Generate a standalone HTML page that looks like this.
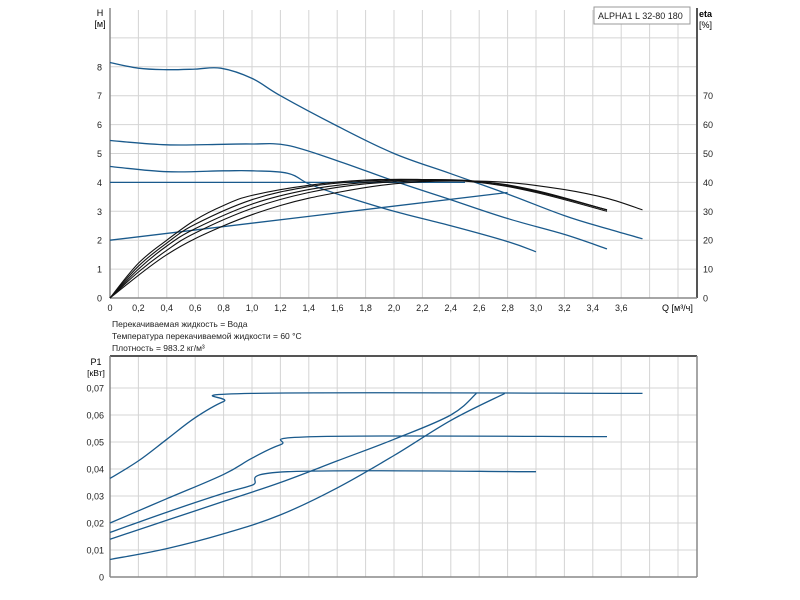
<!DOCTYPE html>
<html><head><meta charset="utf-8"><style>
body{margin:0;background:#fff;width:800px;height:600px;overflow:hidden}
svg{display:block;font-family:"Liberation Sans",sans-serif}
</style></head><body>
<svg id="c" width="800" height="600"></svg>
<script>
// ---- data ----
const qTicks=["0","0,2","0,4","0,6","0,8","1,0","1,2","1,4","1,6","1,8","2,0","2,2","2,4","2,6","2,8","3,0","3,2","3,4","3,6"];
const hTicks=[0,1,2,3,4,5,6,7,8];
const etaTicks=[0,10,20,30,40,50,60,70];
const pTicks=["0","0,01","0,02","0,03","0,04","0,05","0,06","0,07"];
const headQ1=[0,0.2,0.4,0.6,0.78,1.0,1.2,1.6,2.0,2.4,2.8,3.2,3.5,3.75];
const headH1=[8.15,7.95,7.9,7.92,7.95,7.6,7.0,5.95,5.0,4.3,3.6,2.85,2.4,2.05];
const headQ2=[0,0.4,0.8,1.0,1.25,1.6,2.0,2.4,2.8,3.2,3.5];
const headH2=[5.45,5.3,5.32,5.33,5.28,4.75,4.05,3.4,2.75,2.2,1.7];
const headQ3=[0,0.4,0.8,1.0,1.25,1.4,1.6,2.0,2.4,2.8,3.0];
const headH3=[4.55,4.37,4.4,4.4,4.32,3.95,3.6,3.0,2.5,1.95,1.6];
const constQ=[0,2.5];const constH=[4,4];
const propQ=[0,2.8];const propH=[2,3.65];
const etaQ1=[0,0.2,0.4,0.6,0.8,1.0,1.4,1.8,2.2,2.6,3.0,3.5];
const etaV1=[0,12,20,27,32,35.5,39,40.8,41,40,36.5,30];
const etaQ2=[0,0.2,0.4,0.6,1.0,1.4,1.8,2.2,2.6,3.0,3.5];
const etaV2=[0,11,19,25.5,34,38.5,40.5,41,40.3,36.8,30.5];
const etaQ3=[0,0.2,0.4,0.6,1.0,1.4,1.8,2.2,2.6,3.0,3.5];
const etaV3=[0,10,18,24,32.5,37.5,40,40.8,40.3,37,30.5];
const etaQ4=[0,0.2,0.4,0.6,1.0,1.4,1.8,2.2,2.6,3.0,3.5];
const etaV4=[0,9,16.5,22.5,31,36.5,39.5,40.5,40.3,37.2,30.5];
const etaQ5=[0,0.4,0.8,1.2,1.6,2.0,2.4,2.8,3.2,3.5,3.75];
const etaV5=[0,15,25,32,36.5,39.5,40.5,40,37.5,34.5,30.5];
const pQ1=[0,0.2,0.4,0.6,0.8,1.0,3.75];
const pV1=[0.0365,0.043,0.051,0.059,0.065,0.068,0.068];
const pQ2=[0,0.4,0.8,1.0,1.2,1.45,3.5];
const pV2=[0.020,0.029,0.038,0.044,0.049,0.052,0.052];
const pQ3=[0,0.4,0.8,1.0,1.25,3.0];
const pV3=[0.0165,0.024,0.031,0.034,0.039,0.039];
const pQ4=[0,0.4,0.8,1.2,1.6,2.0,2.4,2.58];
const pV4=[0.014,0.021,0.028,0.035,0.043,0.051,0.060,0.068];
const pQ5=[0,0.4,0.8,1.2,1.6,2.0,2.4,2.78];
const pV5=[0.0065,0.0105,0.016,0.023,0.033,0.045,0.058,0.068];
// ---- axes ----
const X=q=>110+q*142;
const YH=h=>298-h*28.9;
const YE=e=>298-e*2.89;
const YP=p=>577-p*2700;
const svg=document.getElementById('c');const NS='http://www.w3.org/2000/svg';
function mk(t,a,txt){const e=document.createElementNS(NS,t);for(const k in a)e.setAttribute(k,a[k]);if(txt!==undefined)e.textContent=txt;svg.appendChild(e);return e;}
function path(xs,ys,Y){const P=xs.map((x,i)=>[X(x),Y(ys[i])]);let d='M'+P[0][0].toFixed(1)+','+P[0][1].toFixed(1);
 for(let i=0;i<P.length-1;i++){const p0=P[i-1]||P[i],p1=P[i],p2=P[i+1],p3=P[i+2]||P[i+1];const k=0.18;
  const c1=[p1[0]+(p2[0]-p0[0])*k,p1[1]+(p2[1]-p0[1])*k],c2=[p2[0]-(p3[0]-p1[0])*k,p2[1]-(p3[1]-p1[1])*k];
  d+='C'+c1.map(v=>v.toFixed(1)).join(',')+' '+c2.map(v=>v.toFixed(1)).join(',')+' '+p2[0].toFixed(1)+','+p2[1].toFixed(1);}
 return d;}
function grid(top,bot){for(let i=1;i<=20;i++){const l=mk('line',{x1:X(i*0.2),x2:X(i*0.2),y1:top,y2:bot,stroke:'#d4d4d4','stroke-width':1});}}
// top chart
grid(10,298);
for(let h=1;h<=9;h++){const l=mk('line',{x1:110,x2:697,y1:YH(h),y2:YH(h),stroke:'#d4d4d4'});}
let a=mk('line',{x1:110,x2:110,y1:8,y2:298,stroke:'#888','stroke-width':1.5});
a=mk('line',{x1:697,x2:697,y1:8,y2:298,stroke:'#555','stroke-width':2});
a=mk('line',{x1:110,x2:697,y1:298,y2:298,stroke:'#888','stroke-width':1.5});
hTicks.forEach(h=>{const t=mk('text',{x:102,y:YH(h)+3.5,'font-size':9,'text-anchor':'end',fill:'#222'},h);});
etaTicks.forEach(e=>{const t=mk('text',{x:703,y:YE(e)+3.5,'font-size':9,fill:'#222'},e);});
qTicks.forEach((s,i)=>{const t=mk('text',{x:X(i*0.2),y:311,'font-size':9,'text-anchor':'middle',fill:'#222'},s);});
let t=mk('text',{x:100,y:16,'font-size':9,'text-anchor':'middle'},'H');
t=mk('text',{x:100,y:27,'font-size':9,'text-anchor':'middle'},'[м]');
t=mk('text',{x:699,y:17,'font-size':9,'font-weight':'bold'},'eta');
t=mk('text',{x:699,y:28,'font-size':9},'[%]');
t=mk('text',{x:662,y:311,'font-size':9},'Q [м³/ч]');
let r=mk('rect',{x:594,y:7,width:96,height:17,fill:'#fff',stroke:'#999'});
t=mk('text',{x:598,y:19,'font-size':9,fill:'#222'},'ALPHA1 L 32-80  180');
const blue='#1a5a8c';
[[headQ1,headH1],[headQ2,headH2],[headQ3,headH3],[constQ,constH],[propQ,propH]].forEach(([q,h],i)=>{const p=mk('path',{d:path(q,h,YH),fill:'none',stroke:blue,'stroke-width':1.3});});
[[etaQ1,etaV1],[etaQ2,etaV2],[etaQ3,etaV3],[etaQ4,etaV4],[etaQ5,etaV5]].forEach(([q,e],i)=>{const p=mk('path',{d:path(q,e,YE),fill:'none',stroke:'#111','stroke-width':1.1});});
// notes
['Перекачиваемая жидкость = Вода','Температура перекачиваемой жидкости = 60 °C','Плотность = 983.2 кг/м³'].forEach((s,i)=>{const n=mk('text',{x:112,y:327+i*12,'font-size':8.5,fill:'#222'},s);});
// bottom chart
grid(356,577);
for(let i=1;i<=7;i++){const l=mk('line',{x1:110,x2:697,y1:YP(i*0.01),y2:YP(i*0.01),stroke:'#d4d4d4'});}
a=mk('line',{x1:110,x2:697,y1:356,y2:356,stroke:'#555','stroke-width':2});
a=mk('line',{x1:110,x2:110,y1:356,y2:577,stroke:'#888','stroke-width':1.5});
a=mk('line',{x1:697,x2:697,y1:356,y2:577,stroke:'#888','stroke-width':1.5});
a=mk('line',{x1:110,x2:697,y1:577,y2:577,stroke:'#888','stroke-width':1.5});
pTicks.forEach((s,i)=>{const n=mk('text',{x:104,y:YP(i*0.01)+3.5,'font-size':9,'text-anchor':'end',fill:'#222'},s);});
t=mk('text',{x:96,y:365,'font-size':9,'text-anchor':'middle'},'P1');
t=mk('text',{x:96,y:376,'font-size':8.5,'text-anchor':'middle'},'[кВт]');
[[pQ1,pV1],[pQ2,pV2],[pQ3,pV3],[pQ4,pV4],[pQ5,pV5]].forEach(([q,v],i)=>{const p=mk('path',{d:path(q,v,YP),fill:'none',stroke:blue,'stroke-width':1.3});});
</script>
</body></html>
